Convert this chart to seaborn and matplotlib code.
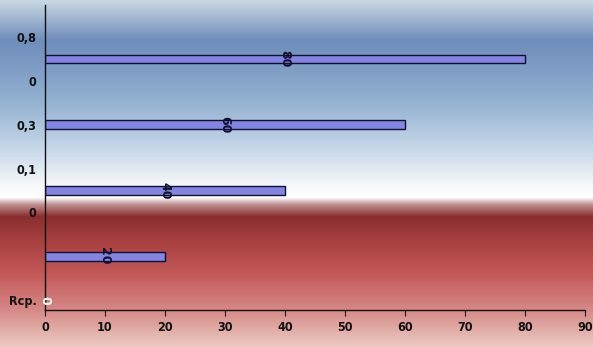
import numpy as np
import pandas as pd
import matplotlib
matplotlib.use("Agg")
import matplotlib.pyplot as plt
from matplotlib.colors import to_rgb
import seaborn as sns

# ---- data ----
tick_labels = ["Rcp.", "", "0", "0,1", "0,3", "0", "0,8"]
tick_pos = [0, 1, 2, 3, 4, 5, 6]
bar_pos = [0, 1, 2.5, 4, 5.5]
bar_values = [0, 20, 40, 60, 80]
x_ticks = [0, 10, 20, 30, 40, 50, 60, 70, 80, 90]

sns.set_style("ticks")
plt.rcParams["font.family"] = ["DejaVu Sans"]

W, H = 593, 347
fig = plt.figure(figsize=(W / 100, H / 100), dpi=100)

# background gradient
stops = [
    (0, "#c9d7e3"), (40, "#6f8dbb"), (100, "#92b0d0"), (150, "#c9d9e9"),
    (185, "#f6f8fb"), (197, "#ffffff"), (204, "#c09090"), (216, "#8a2e2e"),
    (240, "#a84040"), (275, "#c45a5a"), (310, "#d68a88"), (347, "#ecccc4"),
]
ys = np.arange(H)
sp = [s[0] for s in stops]
cols = np.array([to_rgb(s[1]) for s in stops])
grad = np.stack([np.interp(ys, sp, cols[:, i]) for i in range(3)], axis=1)
img = np.repeat(grad[:, None, :], 4, axis=1)
bg = fig.add_axes([0, 0, 1, 1], zorder=-10)
bg.imshow(img, aspect="auto", extent=[0, 1, 0, 1], origin="upper")
bg.axis("off")

ax = fig.add_axes([45 / W, 1 - 310 / H, (585 - 45) / W, (310 - 5) / H])
ax.patch.set_alpha(0)

df = pd.DataFrame({"value": bar_values, "pos": bar_pos})
sns.barplot(data=df, x="value", y="pos", orient="h", native_scale=True,
            width=0.2, color="#8484e2", saturation=1, edgecolor="#101030",
            linewidth=1.0, ax=ax, errorbar=None)

ax.set_xlim(0, 90)
ax.set_ylim(-0.228, 6.735)
ax.set_xticks(x_ticks)
ax.set_xticklabels([str(v) for v in x_ticks])
ax.set_yticks(tick_pos)
ax.set_yticklabels(tick_labels)
ax.set_xlabel("")
ax.set_ylabel("")
sns.despine(ax=ax)
for s in ["left", "bottom"]:
    ax.spines[s].set_color("#111111")
    ax.spines[s].set_linewidth(1.0)
ax.tick_params(axis="x", length=4, color="#111111", pad=4)
ax.tick_params(axis="y", length=0, pad=6)
for lab in ax.get_xticklabels() + ax.get_yticklabels():
    lab.set_fontweight("bold")
    lab.set_fontsize(9)
    lab.set_fontstretch("condensed")
    lab.set_color("#111111")

texts = ax.bar_label(ax.containers[0], labels=[str(v) for v in bar_values],
                     label_type="center", rotation=-90, fontsize=9,
                     fontweight="bold", color="#101030")
texts[0].set_color("white")

fig.savefig("out.png", dpi=100)
